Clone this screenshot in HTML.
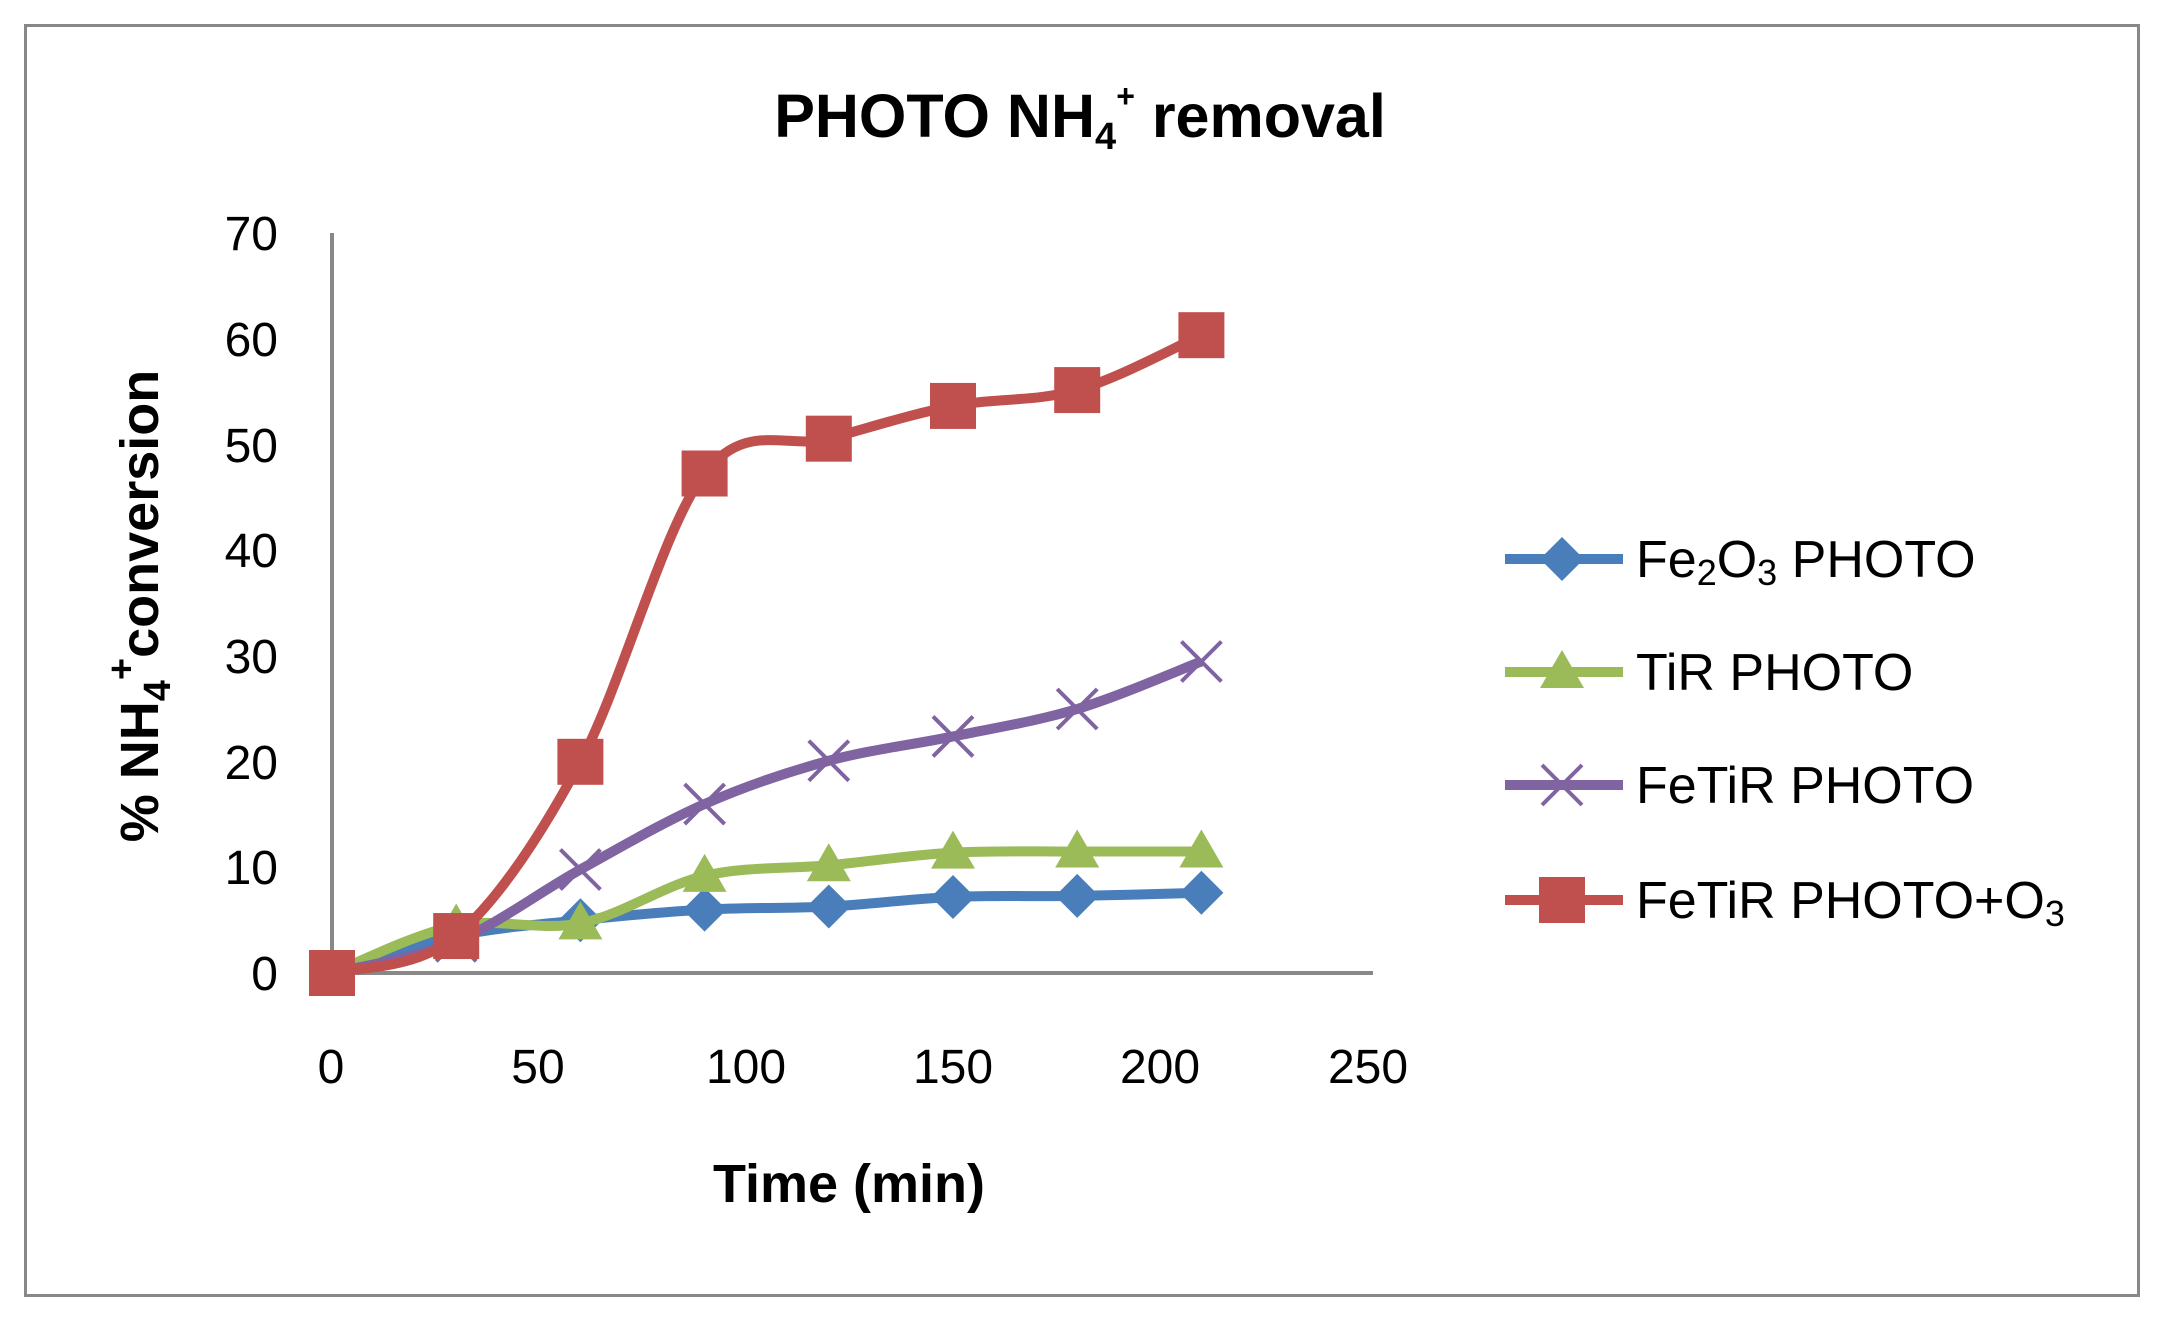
<!DOCTYPE html>
<html><head><meta charset="utf-8"><style>
html,body{margin:0;padding:0;background:#fff;}
svg{display:block;font-family:"Liberation Sans",sans-serif;}
</style></head><body>
<svg id="s" width="2161" height="1321" viewBox="0 0 2161 1321" xmlns="http://www.w3.org/2000/svg">
<rect x="0" y="0" width="2161" height="1321" fill="#fff"/>
<rect x="25.5" y="25.5" width="2113" height="1270" fill="none" stroke="#888" stroke-width="3"/>
<text x="1080" y="137" text-anchor="middle" font-size="61" font-weight="bold">PHOTO NH<tspan font-size="38" dy="12">4</tspan><tspan font-size="32" dy="-42">+</tspan><tspan dy="30"> removal</tspan></text>
<line x1="332" y1="233" x2="332" y2="973" stroke="#888" stroke-width="4"/>
<line x1="332" y1="973" x2="1373" y2="973" stroke="#888" stroke-width="4"/>
<g font-size="48" text-anchor="end">
<text x="278" y="990">0</text><text x="278" y="884">10</text><text x="278" y="779">20</text><text x="278" y="673">30</text><text x="278" y="567">40</text><text x="278" y="462">50</text><text x="278" y="356">60</text><text x="278" y="250">70</text>
</g>
<g font-size="48" text-anchor="middle">
<text x="331" y="1083">0</text><text x="538" y="1083">50</text><text x="746" y="1083">100</text><text x="953" y="1083">150</text><text x="1160" y="1083">200</text><text x="1368" y="1083">250</text>
</g>
<text x="849" y="1202" text-anchor="middle" font-size="54" font-weight="bold">Time (min)</text>
<text transform="translate(158,606) rotate(-90)" text-anchor="middle" font-size="54" font-weight="bold">% NH<tspan font-size="38" dy="12">4</tspan><tspan font-size="38" dy="-36">+</tspan><tspan dy="24">conversion</tspan></text>
<g id="series"></g>
<g font-size="52">
<text x="1636" y="577">Fe<tspan font-size="36" dy="8">2</tspan><tspan dy="-8">O</tspan><tspan font-size="36" dy="8">3</tspan><tspan dy="-8"> PHOTO</tspan></text>
<text x="1636" y="690">TiR PHOTO</text>
<text x="1636" y="803">FeTiR PHOTO</text>
<text x="1636" y="918">FeTiR PHOTO+O<tspan font-size="36" dy="8">3</tspan></text>
</g>
</svg>
<script>
var X=function(t){return 332+t*207/50;},Y=function(v){return 973-v*10.56;};
var T=[0,30,60,90,120,150,180,210];
var S=[
{c:"#4a7ebb",m:"d",d:[0,3.5,5,6,6.3,7.2,7.3,7.6],ly:559},
{c:"#9bbb59",m:"t",d:[0,4.5,4.7,9.2,10.2,11.4,11.5,11.5],ly:672},
{c:"#8064a2",m:"x",d:[0,3,9.8,16,20.1,22.4,25,29.5],ly:785},
{c:"#c0504d",m:"s",d:[0,3.5,20,47.3,50.6,53.7,55.2,60.4],ly:900}];
var g=document.getElementById("series"),h="";
function mk(m,x,y,c){
 if(m=="d")return '<polygon points="'+x+','+(y-22)+' '+(x+22)+','+y+' '+x+','+(y+22)+' '+(x-22)+','+y+'" fill="'+c+'"/>';
 if(m=="t")return '<polygon points="'+x+','+(y-22)+' '+(x+22)+','+(y+16)+' '+(x-22)+','+(y+16)+'" fill="'+c+'"/>';
 if(m=="x")return '<path d="M'+(x-20)+','+(y-20)+'L'+(x+20)+','+(y+20)+'M'+(x+20)+','+(y-20)+'L'+(x-20)+','+(y+20)+'" stroke="'+c+'" stroke-width="4"/>';
 return '<rect x="'+(x-23)+'" y="'+(y-23)+'" width="46" height="46" fill="'+c+'"/>';
}
S.forEach(function(s){
 var p=T.map(function(t,i){return [X(t),Y(s.d[i])];});
 var d="M"+p[0][0]+","+p[0][1];
 for(var i=0;i<p.length-1;i++){
  var p0=p[i-1]||p[i],p1=p[i],p2=p[i+1],p3=p[i+2]||p[i+1],k=1/6;
  d+="C"+(p1[0]+(p2[0]-p0[0])*k)+","+(p1[1]+(p2[1]-p0[1])*k)+" "+(p2[0]-(p3[0]-p1[0])*k)+","+(p2[1]-(p3[1]-p1[1])*k)+" "+p2[0]+","+p2[1];
 }
 h+='<path d="'+d+'" fill="none" stroke="'+s.c+'" stroke-width="10" stroke-linejoin="round"/>';
 p.forEach(function(q){h+=mk(s.m,q[0],q[1],s.c);});
 h+='<line x1="1505" y1="'+s.ly+'" x2="1623" y2="'+s.ly+'" stroke="'+s.c+'" stroke-width="10"/>'+mk(s.m,1562,s.ly,s.c);
});
g.innerHTML=h;
</script>
</body></html>
